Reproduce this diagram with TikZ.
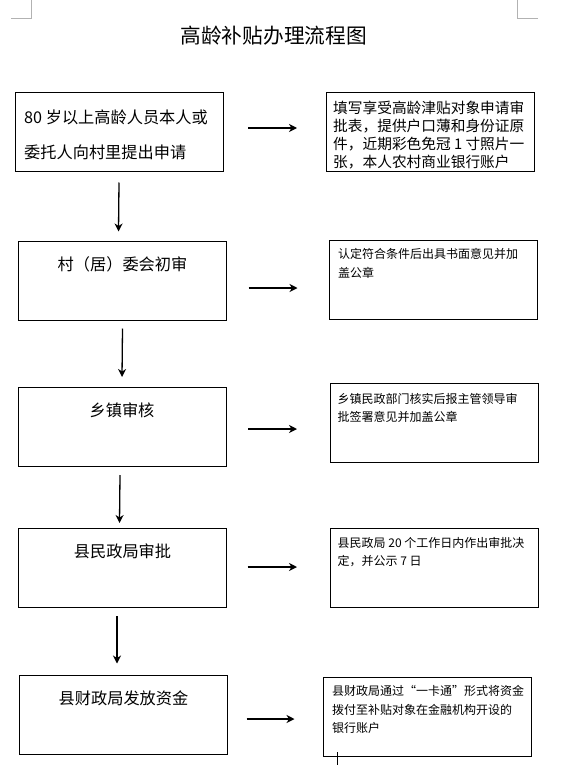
\documentclass[tikz,border=0pt]{standalone}
\usepackage{fontspec}
\newfontfamily\cjk{Noto Sans CJK SC}
\usetikzlibrary{arrows.meta}

\begin{document}
\begin{tikzpicture}[x=1pt, y=-1pt,
        stepbox/.style={rectangle, draw=black, line width=1pt, minimum width=208pt,
              minimum height=79pt, inner sep=0pt, outer sep=0pt},
        flow/.style={line width=1.3pt, -{Stealth[length=8pt, width=8pt, inset=2.5pt]}},
        cropmark/.style={draw=gray!60, line width=0.8pt},
        steptext/.style={inner sep=0pt, font=\cjk\fontsize{16.2}{35}\selectfont},
        notetext/.style={anchor=north west, align=left, inner sep=0pt,
              font=\cjk\fontsize{12}{18.3}\selectfont}]
        \useasboundingbox (0,0) rectangle (571,765);
        \draw[cropmark] (11,18) -- (31.7,18) -- (31.7,0);
        \draw[cropmark] (538,18) -- (517.5,18) -- (517.5,0);

        \node[inner sep=0pt, font=\cjk\fontsize{20.7}{24}\selectfont] (title) at (273.7,36) {高龄补贴办理流程图};

        \node[stepbox] (s1) at (119,132) {};
        \node[stepbox] (n1) at (430,132) {};
        \node[stepbox] (s2) at (122.5,281) {};
        \node[stepbox] (n2) at (433.5,280) {};
        \node[stepbox] (s3) at (122,426.5) {};
        \node[stepbox] (n3) at (434,423) {};
        \node[stepbox] (s4) at (122.5,567.5) {};
        \node[stepbox] (n4) at (434,567.5) {};
        \node[stepbox] (s5) at (123.5,715) {};
        \node[stepbox] (n5) at (427.5,717) {};

        \node[steptext, anchor=north west, align=left] (t1) at ([shift={(9,17)}]s1.north west)
              {80 岁以上高龄人员本人或\\委托人向村里提出申请};
        \node[steptext] (t2) at ([shift={(0,23)}]s2.north) {村（居）委会初审};
        \node[steptext] (t3) at ([shift={(0,23)}]s3.north) {乡镇审核};
        \node[steptext] (t4) at ([shift={(0,23.5)}]s4.north) {县民政局审批};
        \node[steptext] (t5) at ([shift={(0,22.5)}]s5.north) {县财政局发放资金};

        \node[notetext, font=\cjk\fontsize{14.7}{18.2}\selectfont] (m1) at ([shift={(7,8)}]n1.north west)
              {填写享受高龄津贴对象申请审\\批表，提供户口薄和身份证原\\件，近期彩色免冠 1 寸照片一\\张，本人农村商业银行账户};
        \node[notetext] (m2) at ([shift={(8.5,8)}]n2.north west)
              {认定符合条件后出具书面意见并加\\盖公章};
        \node[notetext] (m3) at ([shift={(7.5,9.5)}]n3.north west)
              {乡镇民政部门核实后报主管领导审\\批签署意见并加盖公章};
        \node[notetext] (m4) at ([shift={(7.5,9)}]n4.north west)
              {县民政局 20 个工作日内作出审批决\\定，并公示 7 日};
        \node[notetext] (m5) at ([shift={(8.5,8)}]n5.north west)
              {县财政局通过“一卡通”形式将资金\\拨付至补贴对象在金融机构开设的\\银行账户};

        \draw[flow] ([shift={(25,-4)}]s1.east) -- ([shift={(-29,-4)}]n1.west);
        \draw[flow] ([shift={(22,7)}]s2.east) -- ([shift={(-32,8)}]n2.west);
        \draw[flow] ([shift={(22,2.5)}]s3.east) -- ([shift={(-33,6)}]n3.west);
        \draw[flow] ([shift={(21,-0.5)}]s4.east) -- ([shift={(-33,-0.5)}]n4.west);
        \draw[flow] ([shift={(19,4)}]s5.east) -- ([shift={(-29,2)}]n5.west);

        \draw[flow] ([shift={(0,11)}]s1.south) -- ([shift={(-4,-10)}]s2.north);
        \draw[flow] ([shift={(0,8)}]s2.south) -- ([shift={(0,-10)}]s3.north);
        \draw[flow] ([shift={(-2,9)}]s3.south) -- ([shift={(-3,-5)}]s4.north);
        \draw[flow] ([shift={(-5.5,9)}]s4.south) -- ([shift={(-6.5,-12)}]s5.north);

        \draw[line width=1.2pt] (337.6,752) -- (337.6,765);
    \end{tikzpicture}
\end{document}
